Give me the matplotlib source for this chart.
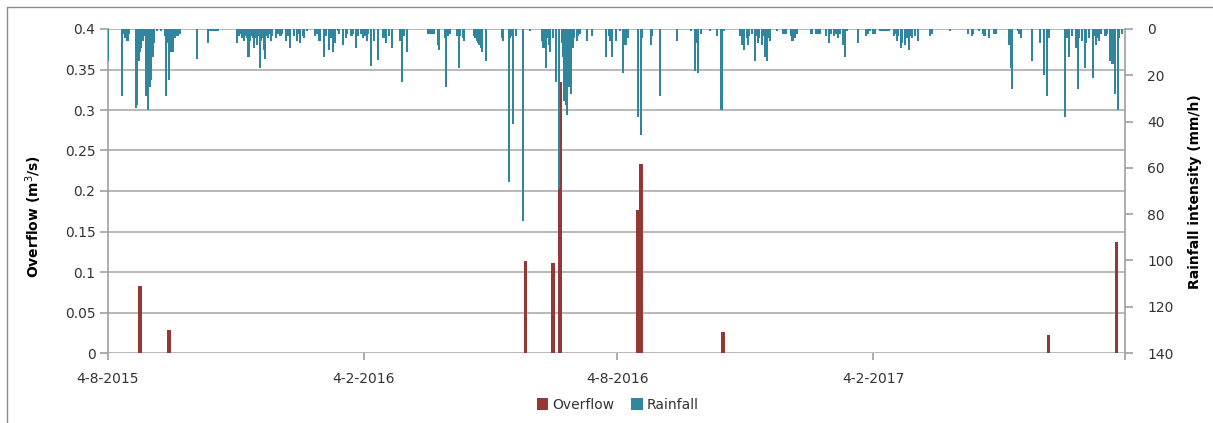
import matplotlib
matplotlib.use("Agg")
import matplotlib.pyplot as plt
from matplotlib.lines import Line2D
from matplotlib.patches import Patch
import pandas as pd
import numpy as np

# ---------------- data ----------------
start_date = "2015-08-04"
end_date = "2017-08-04"

overflow_dates = ["2015-08-27", "2015-09-17", "2016-05-30", "2016-06-19", "2016-06-24",
                  "2016-08-19", "2016-08-21", "2016-10-19", "2017-06-10", "2017-07-29"]
overflow_values = [0.083, 0.028, 0.113, 0.111, 0.335, 0.177, 0.233, 0.026, 0.022, 0.137]

# rainfall: day offset from start_date, intensity (mm/h)
rain_days = [0, 10, 11, 12, 13, 14, 15, 20, 21, 22, 23, 24, 25, 26, 27, 28, 29, 30, 31, 32, 33,
             35, 38, 41, 42, 43, 44, 45, 46, 47, 48, 49, 50, 51, 52, 64, 72, 73, 74, 75, 76, 77, 78, 79,
             93, 94, 95, 96, 97, 98, 99, 100, 101, 102, 103, 104, 105, 106, 107, 108, 109, 110, 111,
             112, 113, 114, 115, 116, 117, 118,
             121, 122, 124, 125, 128, 129, 131, 134, 136, 137, 138, 140, 141, 143, 149, 150, 152, 155,
             157, 159, 160, 162, 163, 165, 166, 169, 171, 172, 175, 176, 178, 180, 182, 183, 185, 186,
             187, 189, 191, 194, 198, 199, 200, 202, 204, 210, 211, 212, 213, 215, 230, 231, 232, 233,
             234, 237, 238,
             242, 243, 244, 246, 251, 252, 253, 255, 256, 263, 264, 265, 266, 267, 268, 269, 272, 283,
             284, 288, 289, 290, 291, 293, 298, 303, 312, 313, 314, 315, 316, 317, 318, 320, 322, 324,
             326, 327, 328, 329, 330, 331, 332, 333, 334, 335, 337, 338, 339, 344, 348, 358, 360, 361, 362,
             365, 368, 370, 372, 373, 374, 381, 383, 384, 390, 391, 397, 409, 419, 422, 423, 424, 426,
             433, 438, 441, 443, 454, 455, 456, 457, 459, 460, 461, 463, 465, 466, 467, 468, 470, 471,
             472, 474, 475, 476, 481, 485,
             487, 491, 492, 494, 495, 505, 506, 509, 510, 512, 516, 518, 520, 522, 523, 525, 526, 528,
             529, 530, 531, 539, 545, 546, 548, 550, 551, 555, 556, 558, 559, 561, 565, 566, 567, 568,
             570, 571, 573, 574, 576, 577, 578, 580, 582, 591, 592, 605,
             618, 621, 622, 626, 629, 630, 633, 637, 638, 648, 649, 650, 654, 655, 656, 664, 670, 673,
             675, 676, 688, 689, 691, 693, 696, 697, 698, 700, 702, 703, 705, 708, 709, 710, 711, 712,
             714, 717, 718, 720, 722, 723, 724, 726, 727, 729]
rain_values = [14, 29, 2, 4, 3, 5, 2, 34, 33, 14, 10, 8, 5, 3, 29, 28, 35, 25, 22, 12, 6,
               1, 1, 3, 29, 6, 22, 10, 4, 10, 4, 3, 3, 2, 2, 13, 6, 1, 1, 1, 1, 1, 1, 1,
               6, 3, 2, 4, 3, 5, 3, 4, 12, 5, 3, 4, 8, 4, 7, 3, 17, 5, 4,
               9, 13, 3, 4, 2, 5, 3,
               4, 2, 3, 2, 5, 3, 8, 3, 5, 2, 6, 3, 4, 1, 3, 2, 5, 12,
               3, 9, 4, 10, 6, 1, 2, 7, 4, 2, 3, 2, 8, 3, 2, 4, 3, 5,
               2, 16, 5, 13.5, 4, 2, 6, 3, 8, 5, 23, 2, 3, 10, 2, 2, 2, 2,
               2, 7, 9,
               4, 25, 3, 2, 3, 17, 3, 4, 5, 3, 4, 5, 6, 7, 8, 10, 14, 4,
               5, 66, 4, 3, 41, 3, 83, 1, 5, 8, 6, 17, 4, 7, 10, 4, 23, 69,
               6, 12, 31, 33, 37, 25, 12, 28, 8, 4, 5, 3, 2, 5, 3, 12, 3, 5, 12,
               5, 1, 19, 7, 3, 4, 38, 46, 4, 7, 3, 29, 5, 1, 18, 6, 19, 2,
               1, 3, 35, 1, 3, 2, 7, 9, 4, 7, 3, 2, 14, 3, 6, 4, 7, 3,
               12, 14, 4, 5, 1, 2,
               2, 3, 5, 4, 2, 2, 2, 2, 2, 2, 3, 6, 2, 3, 2, 4, 2, 7,
               3, 12, 1, 6, 3, 2, 1, 2, 2, 1, 1, 1, 1, 1, 3, 2, 5, 3,
               8, 6, 7, 4, 9, 3, 4, 3, 5, 3, 2, 1,
               2, 3, 2, 1, 2, 3, 4, 2, 2, 7, 17, 26, 1, 2, 4, 14, 6, 20,
               29, 4, 38, 4, 12, 3, 8, 26, 4, 5, 17, 6, 4, 21, 3, 7, 4, 5,
               2, 3, 2, 14, 15, 4, 28, 35, 4, 2]

x_tick_dates = ["2015-08-04", "2016-02-04", "2016-08-04", "2017-02-04", "2017-08-04"]
x_tick_labels = ["4-8-2015", "4-2-2016", "4-8-2016", "4-2-2017", ""]
left_ticks = [0, 0.05, 0.1, 0.15, 0.2, 0.25, 0.3, 0.35, 0.4]
left_tick_labels = ["0", "0.05", "0.1", "0.15", "0.2", "0.25", "0.3", "0.35", "0.4"]
right_ticks = [0, 20, 40, 60, 80, 100, 120, 140]

# ---------------- style ----------------
RED = "#953735"
TEAL = "#31859C"
GRID = "#b3b3b3"
AXC = "#a0a0a0"
TXT = "#333333"
plt.rcParams["font.family"] = ["DejaVu Sans"]

W, H = 1213, 423
fig = plt.figure(figsize=(W / 100, H / 100), dpi=100)
L, R, T, B = 108, 1125, 29, 353
ax = fig.add_axes([L / W, 1 - B / H, (R - L) / W, (B - T) / H])

t0 = pd.Timestamp(start_date)
ov_x = pd.to_datetime(overflow_dates)
rain_x = [t0 + pd.Timedelta(days=d) for d in rain_days]

ax.bar(ov_x, overflow_values, width=2.5, color=RED, align="center", zorder=3,
       linewidth=0, antialiased=False)
ax.set_ylim(0, 0.4)
ax.set_xlim(t0, pd.Timestamp(end_date))
ax.set_yticks(left_ticks)
ax.set_yticklabels(left_tick_labels)
ax.yaxis.grid(True, color=GRID, linewidth=1.3)
ax.set_axisbelow(True)
for s in ["top", "right", "bottom"]:
    ax.spines[s].set_visible(False)
ax.spines["left"].set_color(AXC)
ax.spines["left"].set_linewidth(1.2)
ax.tick_params(axis="y", colors=AXC, labelcolor=TXT, length=6, width=1.2, pad=3, labelsize=10)
ax.set_xticks(pd.to_datetime(x_tick_dates))
ax.set_xticklabels(x_tick_labels)
ax.tick_params(axis="x", colors=AXC, labelcolor=TXT, length=5, width=1.2, pad=9, labelsize=10)

ax2 = ax.twinx()
ax2.bar(rain_x, rain_values, width=1.5, color=TEAL, align="center", linewidth=0,
        zorder=3, antialiased=False)
ax2.set_ylim(140, 0)
ax2.set_yticks(right_ticks)
ax2.set_xlim(t0, pd.Timestamp(end_date))
for s in ["top", "left", "bottom"]:
    ax2.spines[s].set_visible(False)
ax2.spines["right"].set_color(AXC)
ax2.spines["right"].set_linewidth(1.2)
ax2.tick_params(axis="y", colors=AXC, labelcolor=TXT, length=6, width=1.2, pad=10, labelsize=10)

fig.text(34 / W, 1 - 216 / H, "Overflow (m$^3$/s)", rotation=90, ha="center", va="center",
         fontsize=10, fontweight="bold", color="black")
fig.text(1195 / W, 1 - 192 / H, "Rainfall intensity (mm/h)", rotation=90, ha="center", va="center",
         fontsize=10, fontweight="bold", color="black")

handles = [Patch(facecolor=RED, edgecolor="none", label="Overflow"),
           Patch(facecolor=TEAL, edgecolor="none", label="Rainfall")]
leg = fig.legend(handles=handles, loc="center", bbox_to_anchor=(618 / W, 1 - 405 / H), ncol=2,
                 frameon=False, fontsize=10, handlelength=0.8, handleheight=0.9,
                 handletextpad=0.3, columnspacing=1.2)
for t in leg.get_texts():
    t.set_color(TXT)

# chart border (top and left visible)
fig.add_artist(Line2D([7 / W, 7 / W, 1.0], [0.0, 1 - 7 / H, 1 - 7 / H],
                      transform=fig.transFigure, color="#8c8c8c", linewidth=1.0))

fig.savefig("out.png", dpi=100)
